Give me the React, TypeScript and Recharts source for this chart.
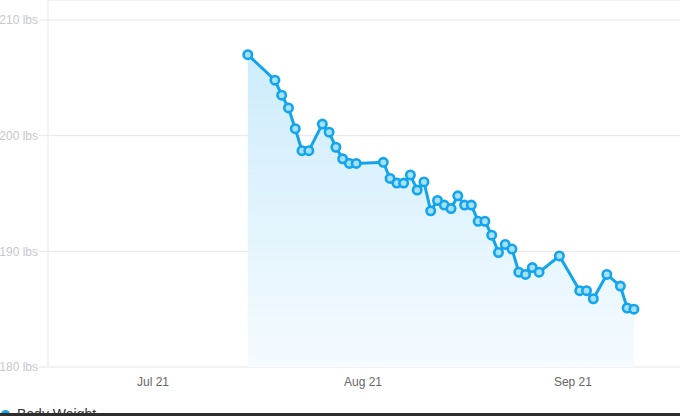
import { ComposedChart, Area, XAxis, YAxis, CartesianGrid } from "recharts";

const dates = [
  "2021-07-15", "2021-07-19", "2021-07-20", "2021-07-21", "2021-07-22", "2021-07-23", "2021-07-24",
  "2021-07-26", "2021-07-27", "2021-07-28", "2021-07-29", "2021-07-30", "2021-07-31",
  "2021-08-04", "2021-08-05", "2021-08-06", "2021-08-07", "2021-08-08", "2021-08-09", "2021-08-10",
  "2021-08-11", "2021-08-12", "2021-08-13", "2021-08-14", "2021-08-15", "2021-08-16", "2021-08-17",
  "2021-08-18", "2021-08-19", "2021-08-20", "2021-08-21", "2021-08-22", "2021-08-23", "2021-08-24",
  "2021-08-25", "2021-08-26", "2021-08-27", "2021-08-30", "2021-09-02", "2021-09-03", "2021-09-04",
  "2021-09-06", "2021-09-08", "2021-09-09", "2021-09-10",
];

const weights = [
  207.0, 204.8, 203.5, 202.4, 200.6, 198.7, 198.7,
  201.0, 200.3, 199.0, 198.0, 197.6, 197.6,
  197.7, 196.3, 195.9, 195.9, 196.6, 195.3, 196.0,
  193.5, 194.4, 194.0, 193.7, 194.8, 194.0, 194.0,
  192.6, 192.6, 191.4, 189.9, 190.6, 190.2, 188.2,
  188.0, 188.6, 188.2, 189.6, 186.6, 186.6, 185.9,
  188.0, 187.0, 185.1, 185.0,
];

// tick positions = days since Jul 1 2021 (month starts)
const tickDays = [0, 31, 62];
const tickLabels = ["Jul 21", "Aug 21", "Sep 21"];
const yTicks = [180, 190, 200, 210];

const origin = Date.UTC(2021, 6, 1);
const toDay = (s: string) => {
  const [y, m, d] = s.split("-").map(Number);
  return (Date.UTC(y, m - 1, d) - origin) / 86400000;
};

const data = dates.map((d, i) => ({ day: toDay(d), weight: weights[i] }));

document.body.style.margin = "0";

const BLUE = "#12a5ee";

const Marker = (props: any) => {
  const { cx, cy } = props;
  if (cx == null || cy == null) return null;
  return <circle cx={cx} cy={cy} r={4.2} fill="#a6e0fa" stroke={BLUE} strokeWidth={2.6} />;
};

export default function App() {
  return (
    <div style={{ position: "relative", width: 680, height: 416, overflow: "hidden", fontFamily: "'Liberation Sans', Arial, sans-serif" }}>
      <ComposedChart width={680} height={400} data={data} margin={{ top: 0, right: 0, bottom: 0, left: 0 }}>
        <defs>
          <linearGradient id="bwFill" x1="0" y1="0" x2="0" y2="1">
            <stop offset="0%" stopColor="#cdecfb" />
            <stop offset="100%" stopColor="#f5fbff" />
          </linearGradient>
        </defs>
        <CartesianGrid vertical={false} stroke="#e6e6e6" />
        <XAxis
          dataKey="day"
          type="number"
          domain={[-15.5, 77.8]}
          ticks={tickDays}
          tickFormatter={(v: number) => tickLabels[tickDays.indexOf(v)] ?? ""}
          height={33}
          tickSize={0}
          tickMargin={10}
          axisLine={false}
          tickLine={false}
          tick={{ fill: "#666666", fontSize: 12 }}
          allowDataOverflow
        />
        <YAxis
          type="number"
          domain={[180, 211.73]}
          ticks={yTicks}
          tickFormatter={(v: number) => `${v} lbs`}
          width={48}
          tickSize={9}
          tickMargin={1}
          axisLine={{ stroke: "#e6e6e6" }}
          tickLine={{ stroke: "#e6e6e6" }}
          tick={{ fill: "#c4c8cc", fontSize: 12 }}
          allowDataOverflow
        />
        <Area
          type="linear"
          dataKey="weight"
          baseValue={180}
          stroke={BLUE}
          strokeWidth={3}
          fill="url(#bwFill)"
          fillOpacity={1}
          dot={<Marker />}
          activeDot={false}
          isAnimationActive={false}
        />
      </ComposedChart>
      <div style={{ position: "absolute", left: 0, top: 406, display: "flex", alignItems: "center", fontSize: 14, color: "#333333" }}>
        <span style={{ display: "inline-block", width: 9, height: 9, borderRadius: "50%", background: BLUE, marginLeft: 1, marginRight: 7 }} />
        <span>Body Weight</span>
      </div>
      <div style={{ position: "absolute", left: 0, top: 413, width: 680, height: 3, background: "#2d2d2d" }} />
    </div>
  );
}
